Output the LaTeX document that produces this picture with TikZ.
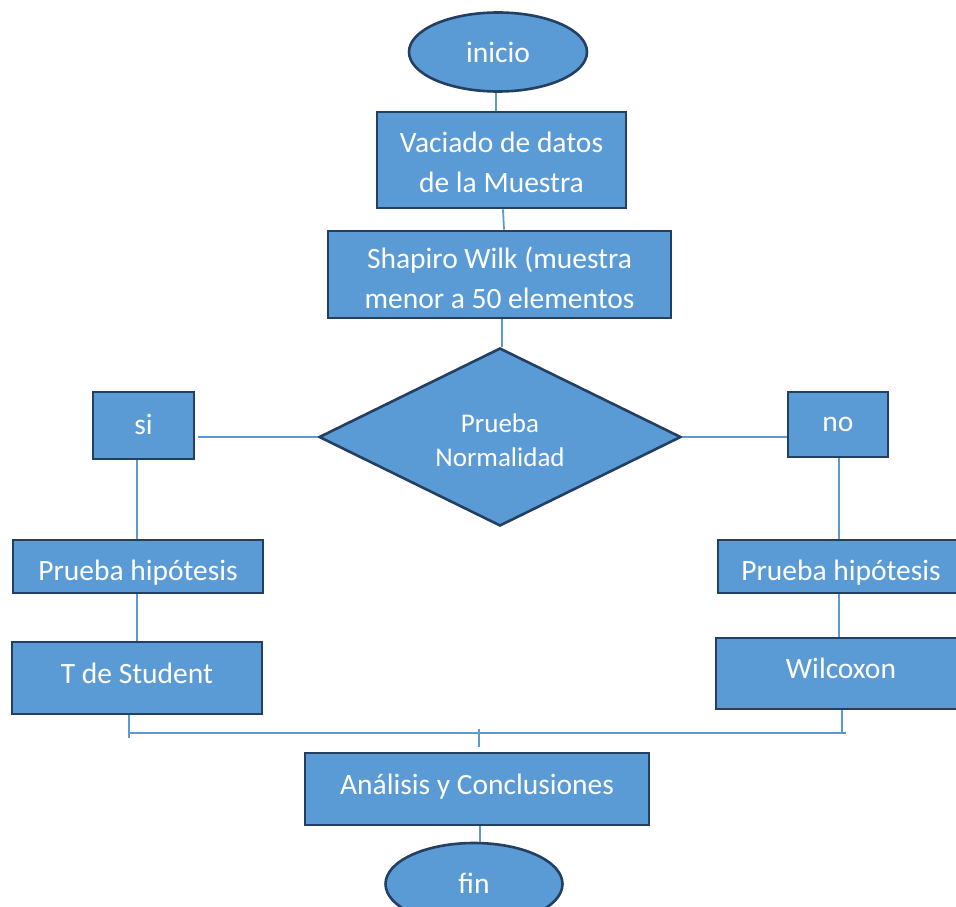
\documentclass[tikz,border=0pt]{standalone}
\usepackage{fontspec}
\setmainfont{Carlito}
\usetikzlibrary{shapes.geometric,calc}
\definecolor{boxfill}{HTML}{5B9BD5}
\definecolor{boxline}{HTML}{233F62}
\definecolor{connline}{HTML}{5B9BD5}
\newcommand\tshift[2]{\raisebox{#1}[\height][\depth]{#2}}
\begin{document}
\begin{tikzpicture}[x=1pt,y=-1pt,
  base/.style={draw=boxline,line width=2.6pt,fill=boxfill,text=white,inner sep=0pt,align=center,font=\fontsize{29.5}{40}\selectfont},
  boxr/.style={base,rectangle},
  oval/.style={base,ellipse},
  decision/.style={base,diamond},
  conn/.style={draw=connline,line width=1.8pt}]
\useasboundingbox (0,0) rectangle (956,907);

\node[oval,minimum width=178pt,minimum height=79pt] (inicio) at (498,52) {inicio};
\node[boxr,minimum width=249pt,minimum height=96pt] (vaciado) at (501.5,160) {\tshift{-4pt}{\begin{tabular}{@{}c@{}}Vaciado de datos\\de la Muestra\end{tabular}}};
\node[boxr,minimum width=343pt,minimum height=87pt] (shapiro) at (499.5,274.5) {\tshift{-6pt}{\begin{tabular}{@{}c@{}}Shapiro Wilk (muestra\\menor a 50 elementos\end{tabular}}};
\node[decision,minimum width=362pt,minimum height=178pt] (dec) at (500,437) {};
\node[text=white,align=center,font=\fontsize{27}{34}\selectfont] (dectext) at (500,440) {Prueba\\Normalidad};
\node[boxr,minimum width=101pt,minimum height=67pt] (si) at (143.5,425.5) {\tshift{1pt}{si}};
\node[boxr,minimum width=100pt,minimum height=65pt] (no) at (838,424.5) {no};
\node[boxr,minimum width=250pt,minimum height=53pt] (ph1) at (138,566.5) {\tshift{-6pt}{Prueba hipótesis}};
\node[boxr,minimum width=250pt,minimum height=72pt] (tst) at (137,678) {\tshift{5pt}{T de Student}};
\node[boxr,minimum width=246pt,minimum height=53pt] (ph2) at (841,566.5) {\tshift{-6pt}{Prueba hipótesis}};
\node[boxr,minimum width=250pt,minimum height=71pt] (wil) at (841,673.5) {\tshift{5pt}{Wilcoxon}};
\node[boxr,minimum width=344pt,minimum height=72pt] (ana) at (477,789) {\tshift{2pt}{Análisis y Conclusiones}};
\node[oval,minimum width=177pt,minimum height=82pt] (fin) at (474,884) {\tshift{1pt}{fin}};

\coordinate (jL) at (129,733);
\coordinate (jR) at (846,733);
\coordinate (jW) at (842,733);
\coordinate (jM) at (479,733);

\draw[conn] ([xshift=-2pt]inicio.south) -- ([xshift=-2pt]inicio.south |- vaciado.north);
\draw[conn] ([xshift=1.5pt]vaciado.south) -- ([xshift=2.5pt]vaciado.south |- shapiro.north);
\draw[conn] ([xshift=2.5pt]shapiro.south) -- ([xshift=2.5pt]shapiro.south |- dec.north);
\draw[conn] (dec.west) -- ([xshift=3pt]dec.west -| si.east);
\draw[conn] (dec.east) -- (dec.east -| no.west);
\draw[conn] ([xshift=-1pt]ph1.north |- si.south) -- ([xshift=-1pt]ph1.north);
\draw[conn] ([xshift=-2pt]ph2.north |- no.south) -- ([xshift=-2pt]ph2.north);
\draw[conn] ([xshift=-1pt]ph1.south) -- ([xshift=-1pt]ph1.south |- tst.north);
\draw[conn] ([xshift=-2pt]ph2.south) -- ([xshift=-2pt]ph2.south |- wil.north);
\draw[conn] (jL |- tst.south) -- ([yshift=-5pt]jL);
\draw[conn] (jL) -- (jR);
\draw[conn] (jW |- wil.south) -- (jW);
\draw[conn] ([yshift=4pt]jM) -- ([yshift=5pt]jM |- ana.north);
\draw[conn] ([xshift=3pt]ana.south) -- ([xshift=3pt]ana.south |- fin.north);
\end{tikzpicture}
\end{document}
